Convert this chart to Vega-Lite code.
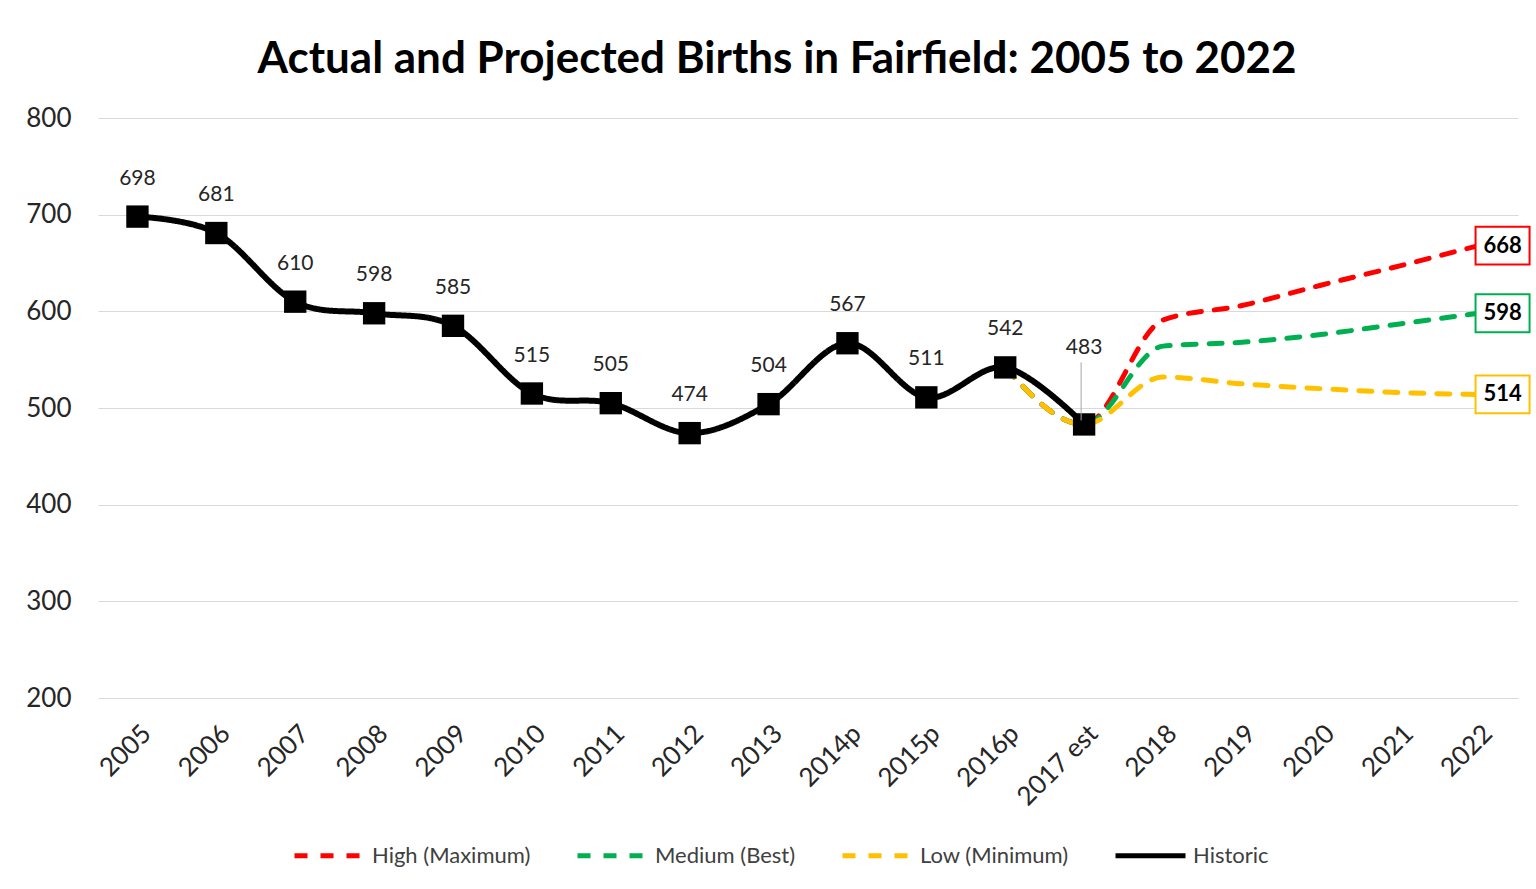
{
  "$schema": "https://vega.github.io/schema/vega-lite/v6.json",
  "width": 1420,
  "height": 580,
  "padding": {"left": 25, "top": 38, "right": 12, "bottom": 10},
  "background": "white",
  "config": {"view": {"stroke": null}, "font": "Lato"},
  "title": {"text": "Actual and Projected Births in Fairfield: 2005 to 2022", "fontSize": 44, "font": "Lato", "fontWeight": "bold", "color": "#000000", "offset": 23, "anchor": "middle", "dx": -31},
  "data": {"values": [
    {"Series": "Historic", "Year": "2005", "Births": 698},
    {"Series": "Historic", "Year": "2006", "Births": 681},
    {"Series": "Historic", "Year": "2007", "Births": 610},
    {"Series": "Historic", "Year": "2008", "Births": 598},
    {"Series": "Historic", "Year": "2009", "Births": 585},
    {"Series": "Historic", "Year": "2010", "Births": 515},
    {"Series": "Historic", "Year": "2011", "Births": 505},
    {"Series": "Historic", "Year": "2012", "Births": 474},
    {"Series": "Historic", "Year": "2013", "Births": 504},
    {"Series": "Historic", "Year": "2014p", "Births": 567},
    {"Series": "Historic", "Year": "2015p", "Births": 511},
    {"Series": "Historic", "Year": "2016p", "Births": 542},
    {"Series": "Historic", "Year": "2017 est", "Births": 483},
    {"Series": "High (Maximum)", "Year": "2016p", "Births": 542},
    {"Series": "High (Maximum)", "Year": "2017 est", "Births": 483},
    {"Series": "High (Maximum)", "Year": "2018", "Births": 591},
    {"Series": "High (Maximum)", "Year": "2019", "Births": 606},
    {"Series": "High (Maximum)", "Year": "2020", "Births": 627},
    {"Series": "High (Maximum)", "Year": "2021", "Births": 647},
    {"Series": "High (Maximum)", "Year": "2022", "Births": 668},
    {"Series": "Medium (Best)", "Year": "2016p", "Births": 542},
    {"Series": "Medium (Best)", "Year": "2017 est", "Births": 483},
    {"Series": "Medium (Best)", "Year": "2018", "Births": 564},
    {"Series": "Medium (Best)", "Year": "2019", "Births": 568},
    {"Series": "Medium (Best)", "Year": "2020", "Births": 576},
    {"Series": "Medium (Best)", "Year": "2021", "Births": 587},
    {"Series": "Medium (Best)", "Year": "2022", "Births": 598},
    {"Series": "Low (Minimum)", "Year": "2016p", "Births": 542},
    {"Series": "Low (Minimum)", "Year": "2017 est", "Births": 483},
    {"Series": "Low (Minimum)", "Year": "2018", "Births": 532},
    {"Series": "Low (Minimum)", "Year": "2019", "Births": 525},
    {"Series": "Low (Minimum)", "Year": "2020", "Births": 520},
    {"Series": "Low (Minimum)", "Year": "2021", "Births": 516},
    {"Series": "Low (Minimum)", "Year": "2022", "Births": 514}
  ]},
  "encoding": {
    "x": {
      "field": "Year", "type": "ordinal",
      "sort": ["2005","2006","2007","2008","2009","2010","2011","2012","2013","2014p","2015p","2016p","2017 est","2018","2019","2020","2021","2022"],
      "scale": {"type": "point", "padding": 0.5},
      "axis": {"title": null, "labelAngle": -45, "labelFontSize": 26, "labelColor": "#262626", "domain": false, "ticks": false, "grid": false, "labelPadding": 22}
    },
    "y": {
      "field": "Births", "type": "quantitative",
      "scale": {"domain": [200, 800], "nice": false, "zero": false},
      "axis": {"title": null, "values": [200,300,400,500,600,700,800], "labelFontSize": 26, "labelColor": "#262626", "domain": false, "ticks": false, "grid": true, "gridColor": "#d9d9d9", "gridWidth": 1, "labelPadding": 27}
    }
  },
  "layer": [
    {
      "transform": [{"filter": "datum.Series !== 'Historic'"}],
      "mark": {"type": "line", "interpolate": "monotone", "strokeWidth": 5, "strokeCap": "round"},
      "encoding": {
        "color": {"field": "Series", "type": "nominal",
          "scale": {"domain": ["High (Maximum)","Medium (Best)","Low (Minimum)","Historic"], "range": ["#ff0000","#00b050","#ffc000","#000000"]},
          "legend": {"orient": "none", "legendX": 194, "legendY": 700, "direction": "horizontal", "title": null, "symbolType": "stroke", "symbolStrokeWidth": 5, "symbolSize": 4900, "labelFontSize": 22, "labelColor": "#404040", "columnPadding": 36, "labelOffset": 5, "labelLimit": 300}},
        "strokeDash": {"field": "Series", "type": "nominal",
          "scale": {"domain": ["High (Maximum)","Medium (Best)","Low (Minimum)","Historic"], "range": [[13,13],[13,13],[13,13],[1,0]]}}
      }
    },
    {
      "transform": [{"filter": "datum.Series === 'Historic'"}],
      "mark": {"type": "line", "interpolate": "cardinal", "strokeWidth": 6},
      "encoding": {
        "color": {"field": "Series", "type": "nominal"},
        "strokeDash": {"field": "Series", "type": "nominal"}
      }
    },
    {
      "transform": [{"filter": "datum.Series === 'Historic'"}],
      "mark": {"type": "point", "shape": "square", "filled": true, "size": 500, "color": "#000000", "opacity": 1}
    },
    {
      "transform": [{"filter": "datum.Series === 'Historic' && datum.Year !== '2017 est'"}],
      "mark": {"type": "text", "dy": -38, "fontSize": 21, "color": "#262626", "baseline": "middle"},
      "encoding": {"text": {"field": "Births", "type": "quantitative"}}
    },
    {
      "transform": [{"filter": "datum.Series === 'Historic' && datum.Year === '2017 est'"}],
      "mark": {"type": "text", "dy": -76, "fontSize": 21, "color": "#262626", "baseline": "middle"},
      "encoding": {"text": {"field": "Births", "type": "quantitative"}}
    },
    {
      "transform": [{"filter": "datum.Series === 'Historic' && datum.Year === '2017 est'"}],
      "mark": {"type": "rule", "color": "#a6a6a6", "strokeWidth": 1, "xOffset": -3, "x2Offset": -3, "yOffset": -4, "y2Offset": -62},
      "encoding": {"y2": {"field": "Births"}}
    },
    {
      "transform": [{"filter": "datum.Series !== 'Historic' && datum.Year === '2022'"}],
      "mark": {"type": "point", "shape": "M-1,-0.7H1V0.7H-1Z", "size": 2916, "filled": false, "fill": "white", "fillOpacity": 1, "strokeWidth": 2, "opacity": 1, "xOffset": 24},
      "encoding": {"stroke": {"field": "Series", "type": "nominal", "scale": {"domain": ["High (Maximum)","Medium (Best)","Low (Minimum)","Historic"], "range": ["#ff0000","#00b050","#ffc000","#000000"]}, "legend": null}}
    },
    {
      "transform": [{"filter": "datum.Series !== 'Historic' && datum.Year === '2022'"}],
      "mark": {"type": "text", "fontSize": 22, "fontWeight": "bold", "color": "#000000", "xOffset": 24, "baseline": "middle"},
      "encoding": {"text": {"field": "Births", "type": "quantitative"}}
    }
  ]
}
